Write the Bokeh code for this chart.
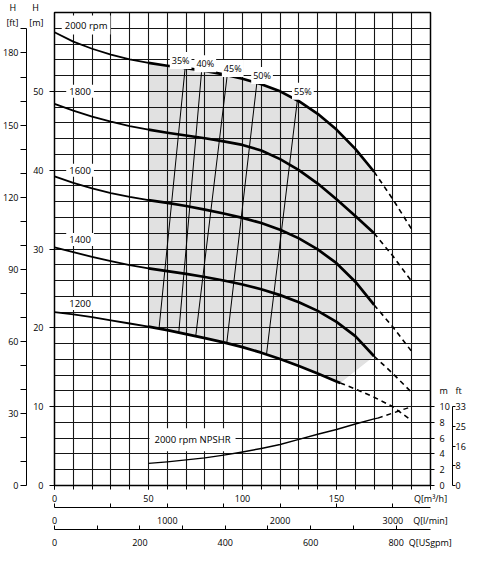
import numpy as np
from bokeh.plotting import figure
from bokeh.models import Range1d, LinearAxis, FixedTicker, Label, CustomJSTickFormatter
from bokeh.embed import file_html
from bokeh.resources import INLINE

FONT = "Open Sans"

# ---------------- data (Q in m3/h, H in m) ----------------
q_main = [0, 10, 20, 30, 40, 50, 60, 70, 80, 90, 100, 110, 120, 130, 140, 150, 160, 170]
h2000 = [57.5, 56.3, 55.4, 54.65, 54.05, 53.6, 53.25, 52.95, 52.6, 52.15, 51.6, 50.9, 50.0, 48.75, 47.15, 45.15, 42.7, 39.8]
h1800 = [48.4, 47.55, 46.8, 46.15, 45.6, 45.15, 44.75, 44.4, 44.05, 43.65, 43.2, 42.5, 41.4, 40.0, 38.3, 36.3, 34.2, 32.0]
h1600 = [39.2, 38.4, 37.7, 37.1, 36.6, 36.2, 35.85, 35.45, 35.0, 34.5, 33.95, 33.3, 32.45, 31.35, 29.95, 28.2, 25.85, 22.9]
h1400 = [30.2, 29.6, 29.0, 28.45, 27.95, 27.55, 27.2, 26.85, 26.45, 26.0, 25.5, 24.9, 24.15, 23.25, 22.15, 20.75, 18.95, 16.4]
q1200 = [0, 10, 20, 30, 40, 50, 60, 70, 80, 90, 100, 110, 120, 130, 140, 150, 152]
h1200 = [22.0, 21.7, 21.35, 20.95, 20.55, 20.15, 19.7, 19.2, 18.7, 18.15, 17.55, 16.85, 16.05, 15.15, 14.2, 13.2, 13.0]

# dashed continuations
q_ext = [170, 180, 190]
h2000_ext = [39.8, 36.3, 32.5]
h1800_ext = [32.0, 29.1, 25.9]
h1600_ext = [22.9, 20.1, 17.0]
h1400_ext = [16.4, 14.2, 11.8]
q1200_ext = [152, 160, 170, 180, 189]
h1200_ext = [13.0, 12.25, 11.2, 10.0, 8.4]

# NPSHR at 2000 rpm (m)
q_npsh = [50, 60, 70, 80, 90, 100, 110, 120, 130, 140, 150, 160, 170, 172]
npsh = [2.8, 3.0, 3.25, 3.5, 3.85, 4.25, 4.7, 5.2, 5.85, 6.5, 7.1, 7.8, 8.45, 8.55]
q_npsh_ext = [172, 190]
npsh_ext = [8.55, 10.0]

# iso-efficiency lines
eff_labels = ["35%", "40%", "45%", "50%", "55%"]
eff_q_top = [69.5, 78.3, 91.9, 107.7, 129.2]
eff_h_top = [53.0, 52.7, 52.1, 51.2, 48.9]
eff_q_bot = [55.6, 66.1, 75.1, 91.6, 112.8]
eff_h_bot = [19.9, 19.4, 18.9, 18.0, 16.7]
eff_label_q = [67.1, 80.2, 94.8, 110.4, 132.1]
eff_label_h = [53.9, 53.5, 52.9, 52.0, 50.0]

rpm_labels = ["2000 rpm", "1800", "1600", "1400", "1200"]
rpm_label_q = [16.8, 13.6, 13.6, 13.6, 13.6]
rpm_label_h = [58.4, 50.0, 40.0, 31.2, 23.1]
npsh_label = "2000 rpm NPSHR"
npsh_label_q = 73.4
npsh_label_h = 5.8

# axis ticks
q_major = [0, 50, 100, 150, 200]
q_minor = list(range(0, 201, 10))
lmin_labels = [0, 1000, 2000, 3000]
lmin_minor = [0, 500, 1000, 1500, 2000, 2500, 3000]
gpm_labels = [0, 200, 400, 600, 800]
gpm_minor = [0, 100, 200, 300, 400, 500, 600, 700, 800]
h_m_ticks = [0, 10, 20, 30, 40, 50]
h_ft_ticks = [0, 30, 60, 90, 120, 150, 180]
h_ft_minor = list(range(0, 191, 10))
npsh_m_ticks = [0, 2, 4, 6, 8, 10]
npsh_ft_ticks_m = [0, 2.5, 5, 7.5, 10]

Q_MAX = 200
H_MAX = 60
FT = 0.3048
LMIN_PER_M3H = 1000 / 60
M3H_PER_GPM = 0.227124707
HDR_LEFT_M = 59.8    # height of the "H [m]" / "H [ft]" headers
HDR_RIGHT_M = 12.0   # height of the NPSH "m" / "ft" headers

# ---------------- figure ----------------
p = figure(width=468, height=551, x_range=Range1d(0, Q_MAX), y_range=Range1d(0, H_MAX),
           output_backend="svg", toolbar_location=None,
           min_border_left=10, min_border_right=10, min_border_top=12, min_border_bottom=10)
p.background_fill_color = "white"
p.border_fill_color = "white"
p.outline_line_color = "black"
p.outline_line_width = 1.5
p.extra_y_ranges = {"ft": Range1d(0, H_MAX / FT)}
p.extra_x_ranges = {"lmin": Range1d(0, Q_MAX * LMIN_PER_M3H),
                    "gpm": Range1d(0, Q_MAX / M3H_PER_GPM)}

p.xgrid.ticker = FixedTicker(ticks=q_minor)
p.ygrid.ticker = FixedTicker(ticks=list(range(0, H_MAX + 1, 2)))
for g in (p.xgrid[0], p.ygrid[0]):
    g.grid_line_color = "#151515"
    g.grid_line_width = 1.1
    g.grid_line_alpha = 1.0


def style_axis(ax, size="9px"):
    ax.major_label_text_font = FONT
    ax.major_label_text_font_size = size
    ax.major_label_text_color = "black"
    ax.axis_line_color = "black"
    ax.major_tick_line_color = "black"
    ax.minor_tick_line_color = "black"
    return ax


def fmt(limit, text, rnd=False):
    num = "Math.round(tick).toString()" if rnd else "tick.toFixed(0)"
    return CustomJSTickFormatter(code=f"return tick > {limit} ? '{text}' : {num};")


def spacer(n, **kw):
    return LinearAxis(ticker=FixedTicker(ticks=[], minor_ticks=[]), axis_line_color=None,
                      major_tick_out=n, major_tick_in=0, minor_tick_out=0, minor_tick_in=0,
                      major_label_standoff=0, **kw)


# ---- bottom: Q axes ----
xa = style_axis(p.xaxis[0])
xa.ticker = FixedTicker(ticks=q_major, minor_ticks=q_minor)
xa.formatter = fmt(190, "Q[m³/h]")
xa.major_tick_in = 0
xa.major_tick_out = 4
xa.minor_tick_in = 0
xa.minor_tick_out = 4
xa.major_label_standoff = 2

p.add_layout(spacer(10), "below")
ax2 = style_axis(LinearAxis(x_range_name="lmin",
                 ticker=FixedTicker(ticks=lmin_labels + [3333], minor_ticks=lmin_minor),
                 formatter=fmt(3200, "Q[l/min]"),
                 major_tick_in=0, major_tick_out=0, minor_tick_in=4, minor_tick_out=0,
                 major_label_standoff=6))
ax2.axis_line_width = 1.2
p.add_layout(ax2, "below")
p.add_layout(spacer(10), "below")
ax3 = style_axis(LinearAxis(x_range_name="gpm",
                 ticker=FixedTicker(ticks=gpm_labels + [880], minor_ticks=gpm_minor),
                 formatter=fmt(850, "Q[USgpm]"),
                 major_tick_in=0, major_tick_out=0, minor_tick_in=4, minor_tick_out=0,
                 major_label_standoff=6))
ax3.axis_line_width = 1.2
p.add_layout(ax3, "below")

# ---- left: H axes ----
ya = style_axis(p.yaxis[0])
ya.ticker = FixedTicker(ticks=h_m_ticks + [HDR_LEFT_M], minor_ticks=h_m_ticks)
ya.formatter = fmt(55, "H\\u00a0\\u00a0\\n[m]")
ya.major_tick_in = 0
ya.major_tick_out = 0
ya.minor_tick_in = 0
ya.minor_tick_out = 5
ya.major_label_standoff = 6

p.add_layout(spacer(2), "left")
yft_line = style_axis(LinearAxis(y_range_name="ft",
                      ticker=FixedTicker(ticks=[], minor_ticks=h_ft_minor),
                      bounds=(0, h_ft_minor[-1]), major_tick_in=0, major_tick_out=6,
                      minor_tick_in=0, minor_tick_out=6, major_label_standoff=0))
p.add_layout(yft_line, "left")
yft_lab = style_axis(LinearAxis(y_range_name="ft",
                     ticker=FixedTicker(ticks=h_ft_ticks + [HDR_LEFT_M / FT], minor_ticks=[]),
                     formatter=fmt(185, "H\\u00a0\\n[ft]"), major_tick_in=0, major_tick_out=0,
                     minor_tick_in=0, minor_tick_out=0, major_label_standoff=2))
yft_lab.axis_line_color = None
p.add_layout(yft_lab, "left")

# ---- right: NPSH axes ----
yr = style_axis(LinearAxis(ticker=FixedTicker(ticks=npsh_m_ticks + [HDR_RIGHT_M], minor_ticks=npsh_m_ticks),
                formatter=fmt(11, "m"),
                major_tick_in=0, major_tick_out=0, minor_tick_out=4, minor_tick_in=0,
                major_label_standoff=5))
yr.axis_line_color = None
p.add_layout(yr, "right")
p.add_layout(spacer(6), "right")
npsh_ft = [m / FT for m in npsh_ft_ticks_m]
yr_line = style_axis(LinearAxis(y_range_name="ft",
                     ticker=FixedTicker(ticks=[], minor_ticks=npsh_ft),
                     bounds=(0, npsh_ft[-1]), major_tick_in=0, major_tick_out=3,
                     minor_tick_in=0, minor_tick_out=3, major_label_standoff=0))
p.add_layout(yr_line, "right")
yr_lab = style_axis(LinearAxis(y_range_name="ft",
                    ticker=FixedTicker(ticks=npsh_ft + [HDR_RIGHT_M / FT], minor_ticks=[]),
                    formatter=fmt(35, "ft", rnd=True), major_tick_in=0, major_tick_out=0,
                    minor_tick_in=0, minor_tick_out=0, major_label_standoff=0))
yr_lab.axis_line_color = None
p.add_layout(yr_lab, "right")

# ---------------- operating region ----------------
qm = np.array(q_main)
q12 = np.array(q1200)
m12 = q12 >= 50
m20 = qm >= 50
poly_x = list(q12[m12]) + [q_main[-1]] + list(qm[m20][::-1])
poly_y = list(np.array(h1200)[m12]) + [h1400[-1]] + list(np.array(h2000)[m20][::-1])
p.patch(poly_x, poly_y, fill_color="#e1e1e1", line_color=None, level="image")

# ---------------- curves ----------------
for qs, hs, qe, he in [(q_main, h2000, q_ext, h2000_ext),
                       (q_main, h1800, q_ext, h1800_ext),
                       (q_main, h1600, q_ext, h1600_ext),
                       (q_main, h1400, q_ext, h1400_ext),
                       (q1200, h1200, q1200_ext, h1200_ext)]:
    qa = np.array(qs)
    ha = np.array(hs)
    left = qa <= 50
    right = qa >= 50
    p.line(qa[left], ha[left], line_color="black", line_width=1.8, line_join="round")
    p.line(qa[right], ha[right], line_color="black", line_width=2.7, line_join="round")
    p.line(qe, he, line_color="black", line_width=1.6, line_dash="5 4")

p.line(q_npsh, npsh, line_color="black", line_width=1.4, line_join="round")
p.line(q_npsh_ext, npsh_ext, line_color="black", line_width=1.4, line_dash="5 4")

p.segment(x0=eff_q_top, y0=eff_h_top, x1=eff_q_bot, y1=eff_h_bot,
          line_color="black", line_width=1.0)


# ---------------- labels ----------------
def add_label(x, y, text, size="9px", pad=1):
    lab = Label(x=x, y=y, text=text, text_font=FONT, text_font_size=size,
                text_align="center", text_baseline="middle", text_color="black",
                background_fill_color="white", padding=pad)
    p.add_layout(lab)


for t, x, y in zip(rpm_labels, rpm_label_q, rpm_label_h):
    add_label(x, y, t, size="9.5px", pad=3)
for t, x, y in zip(eff_labels, eff_label_q, eff_label_h):
    add_label(x, y, t, size="9px", pad=2)
add_label(npsh_label_q, npsh_label_h, npsh_label, size="9.5px", pad=5)

open("out.html", "w").write(file_html(p, INLINE))
